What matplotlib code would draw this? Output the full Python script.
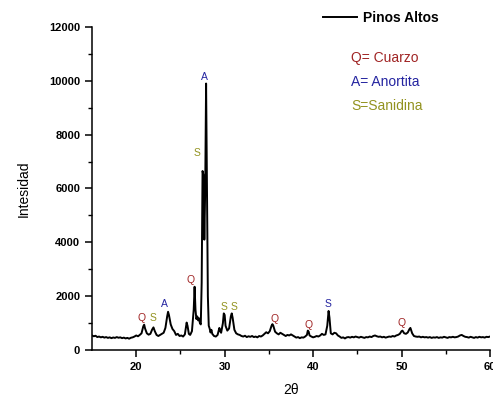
import numpy as np
import matplotlib.pyplot as plt

plt.rcParams['font.family'] = ['Liberation Sans', 'DejaVu Sans']

# diffractogram (2theta in degrees, counts)
two_theta = [
    15.0, 15.2, 15.4, 15.6, 15.8, 16.0, 16.2, 16.4, 16.6, 16.8, 17.0, 17.2, 17.4, 17.6, 17.8,
    18.0, 18.2, 18.4, 18.6, 18.8, 19.0, 19.2, 19.4, 19.6, 19.8, 20.0, 20.2, 20.4, 20.6, 20.8,
    20.9, 21.0, 21.2, 21.4, 21.6, 21.8, 21.95, 22.1, 22.3, 22.5, 22.7, 22.9, 23.1, 23.3, 23.5,
    23.6, 23.7, 23.9, 24.1, 24.3, 24.5, 24.7, 24.9, 25.1, 25.3, 25.5, 25.7, 25.8, 25.95, 26.1,
    26.3, 26.5, 26.6, 26.7, 26.8, 26.9, 27.0, 27.1, 27.2, 27.3, 27.4, 27.5, 27.6, 27.7, 27.8,
    27.9, 28.0, 28.1, 28.2, 28.3, 28.4, 28.5, 28.6, 28.8, 29.0, 29.2, 29.4, 29.5, 29.6, 29.8,
    29.9, 30.0, 30.1, 30.3, 30.5, 30.7, 30.8, 30.9, 31.1, 31.3, 31.5, 31.7, 31.9, 32.1, 32.3,
    32.5, 32.7, 32.9, 33.1, 33.3, 33.5, 33.7, 33.9, 34.1, 34.3, 34.5, 34.7, 34.9, 35.1, 35.3,
    35.4, 35.5, 35.7, 35.9, 36.1, 36.3, 36.5, 36.7, 36.9, 37.1, 37.3, 37.5, 37.7, 37.9, 38.1,
    38.3, 38.5, 38.7, 38.9, 39.1, 39.3, 39.4, 39.5, 39.6, 39.8, 40.0, 40.2, 40.4, 40.6, 40.8,
    41.0, 41.2, 41.4, 41.6, 41.75, 41.85, 42.0, 42.2, 42.4, 42.6, 42.8, 43.0, 43.2, 43.4, 43.6,
    43.8, 44.0, 44.2, 44.4, 44.6, 44.8, 45.0, 45.2, 45.4, 45.6, 45.8, 46.0, 46.2, 46.4, 46.6,
    46.8, 47.0, 47.2, 47.4, 47.6, 47.8, 48.0, 48.2, 48.4, 48.6, 48.8, 49.0, 49.2, 49.4, 49.6,
    49.8, 50.0, 50.1, 50.3, 50.5, 50.7, 50.9, 51.0, 51.2, 51.4, 51.6, 51.8, 52.0, 52.2, 52.4,
    52.6, 52.8, 53.0, 53.2, 53.4, 53.6, 53.8, 54.0, 54.2, 54.4, 54.6, 54.8, 55.0, 55.2, 55.4,
    55.6, 55.8, 56.0, 56.2, 56.4, 56.6, 56.8, 57.0, 57.2, 57.4, 57.6, 57.8, 58.0, 58.2, 58.4,
    58.6, 58.8, 59.0, 59.2, 59.4, 59.6, 59.8, 60.0,
]
counts = [
    540, 510, 530, 480, 500, 470, 490, 460, 480, 450, 470, 440, 465, 450, 480,
    455, 470, 440, 460, 430, 450, 420, 455, 470, 500, 540, 510, 560, 620, 880,
    940, 800, 620, 570, 600, 760, 840, 700, 560, 520, 560, 600, 640, 820, 1250,
    1420, 1300, 950, 780, 700, 560, 600, 520, 540, 500, 580, 1020, 900, 600, 560,
    700, 1500, 2350, 1500, 1150, 1250, 1100, 1180, 1000, 950, 2500, 6650, 6500, 4100, 6000,
    9900, 6000, 2000, 900, 800, 650, 750, 600, 520, 500, 560, 820, 700, 640, 1000,
    1360, 1300, 900, 720, 800, 1250, 1360, 1200, 750, 620, 580, 560, 520, 500, 530,
    480, 510, 490, 520, 480, 500, 470, 520, 500, 540, 600, 660, 620, 700, 900,
    960, 900, 680, 620, 580, 640, 600, 560, 520, 560, 540, 580, 540, 500, 460,
    480, 440, 470, 460, 500, 560, 720, 680, 540, 500, 470, 490, 520, 500, 540,
    600, 560, 580, 900, 1450, 1200, 620, 580, 640, 620, 540, 500, 450, 470, 430,
    470, 480, 460, 490, 470, 500, 480, 460, 490, 470, 450, 480, 470, 500, 480,
    520, 540, 510, 490, 500, 470, 490, 460, 480, 500, 490, 520, 500, 540, 560,
    600, 700, 720, 620, 600, 650, 780, 820, 620, 520, 500, 490, 500, 470, 490,
    470, 480, 460, 480, 450, 470, 460, 480, 450, 470, 460, 490, 470, 450, 480,
    470, 490, 470, 480, 500, 540, 560, 520, 490, 480, 460, 490, 470, 450, 480,
    460, 490, 470, 480, 460, 490, 480, 500,
]

# phase labels above the peaks
peak_labels = ['Q', 'S', 'A', 'Q', 'S', 'A', 'S', 'S', 'Q', 'Q', 'S', 'Q']
peak_x = [20.55, 21.85, 23.17, 26.2, 26.9, 27.76, 29.9, 31.1, 35.6, 39.5, 41.74, 50.0]
peak_y = [1200, 1200, 1720, 2610, 7330, 10150, 1610, 1610, 1150, 940, 1720, 1010]
peak_colors = ['Q', 'S', 'A', 'Q', 'S', 'A', 'S', 'S', 'Q', 'Q', 'A', 'Q']

phase_text = ['Q= Cuarzo', 'A= Anortita', 'S=Sanidina']
phase_keys = ['Q', 'A', 'S']
colors = {'Q': '#a02424', 'A': '#2424a0', 'S': '#939320'}

fig = plt.figure(figsize=(4.93, 3.97), dpi=100)
ax = fig.add_axes([92 / 493, 1 - 350 / 397, 398 / 493, 323 / 397])

ax.plot(two_theta, counts, color='black', lw=1.4, label='Pinos Altos')

for lab, x, y, c in zip(peak_labels, peak_x, peak_y, peak_colors):
    ax.text(x, y, lab, color=colors[c], fontsize=7.5, ha='center', va='center')

for i, (t, k) in enumerate(zip(phase_text, phase_keys)):
    fig.text(351 / 493, 1 - (58 + 24 * i) / 397, t, color=colors[k], fontsize=10,
             ha='left', va='center')

leg = ax.legend(loc='upper left', bbox_to_anchor=(323 / 493, 1 - 11 / 397),
                bbox_transform=fig.transFigure, frameon=False, borderpad=0,
                borderaxespad=0, handlelength=2.45, handletextpad=0.4,
                prop={'weight': 'bold', 'size': 10})

ax.set_xlim(15, 60)
ax.set_ylim(0, 12000)
ax.set_xticks([20, 30, 40, 50, 60])
ax.set_xticks([25, 35, 45, 55], minor=True)
ax.set_yticks(np.arange(0, 12001, 2000))
ax.set_yticks(np.arange(1000, 12000, 2000), minor=True)

for s in ['top', 'right']:
    ax.spines[s].set_visible(False)
for s in ['left', 'bottom']:
    ax.spines[s].set_linewidth(1.1)
ax.tick_params(which='major', direction='out', length=5, width=1.1, labelsize=8)
ax.tick_params(which='minor', direction='out', length=3, width=1.0)
for lbl in ax.get_xticklabels() + ax.get_yticklabels():
    lbl.set_fontweight('bold')

ax.set_xlabel('2θ', fontsize=10, labelpad=8)
ax.set_ylabel('Intesidad', fontsize=10, labelpad=13)

fig.savefig('out.png', dpi=100)
